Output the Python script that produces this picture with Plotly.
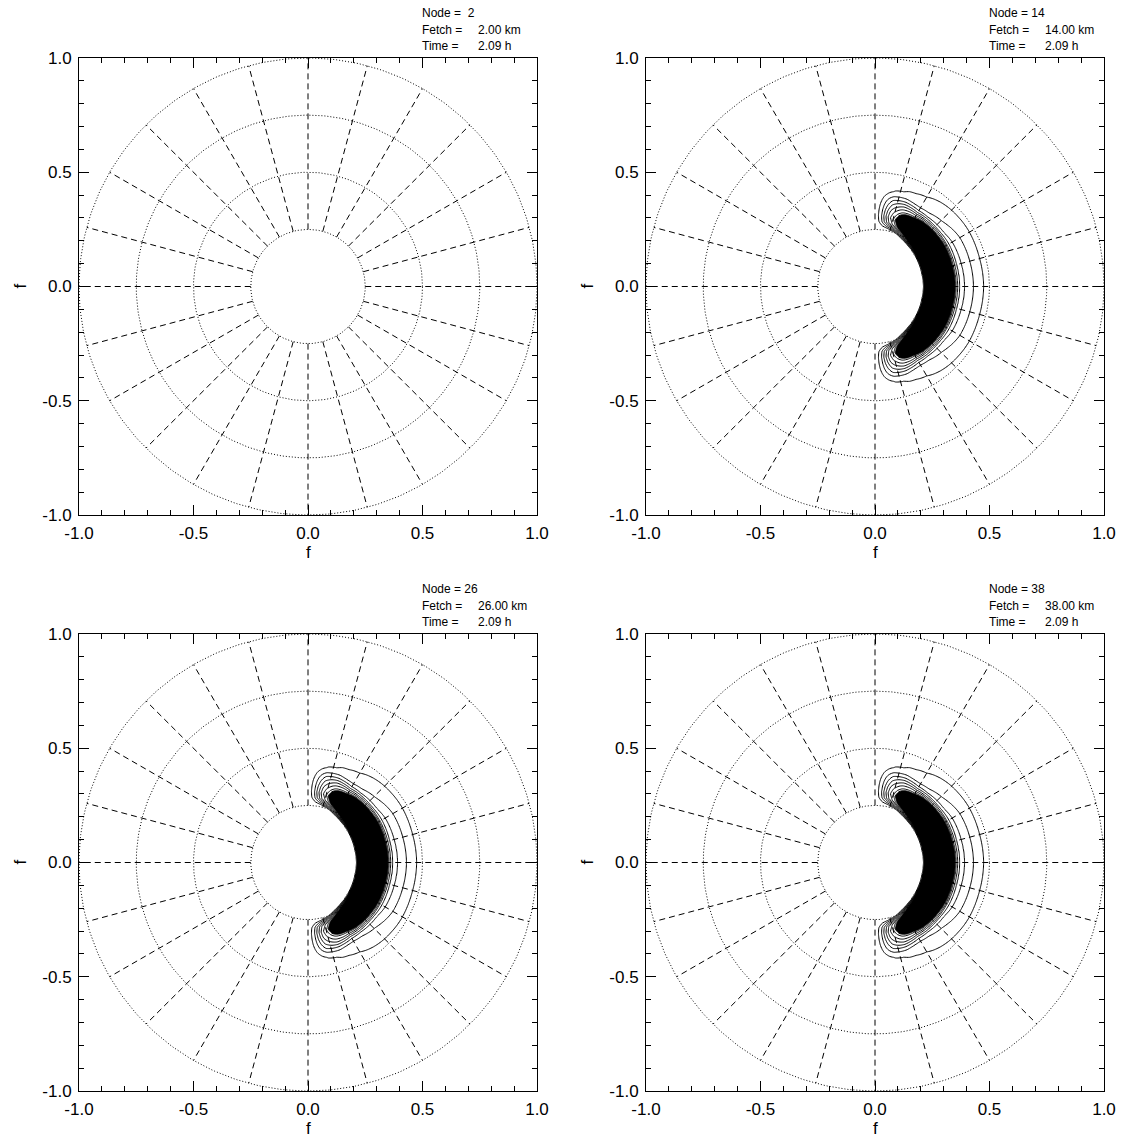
import numpy as np
import plotly.graph_objects as go

# ---------------- data ----------------
NODES = [2, 14, 26, 38]
FETCH_KM = [2.00, 14.00, 26.00, 38.00]
TIME_H = [2.09, 2.09, 2.09, 2.09]
NODE_AMPLITUDE = [0.0, 1.0, 1.0, 1.0]

# 1-D frequency profile along the mean direction (relative energy)
FREQ = [0.19, 0.205, 0.215, 0.225, 0.24, 0.26, 0.28, 0.30, 0.32, 0.34,
        0.355, 0.37, 0.39, 0.43, 0.47, 0.52, 0.60]
ENERGY = [0.0, 0.0, 0.05, 0.40, 0.85, 1.00, 0.92, 0.76, 0.56, 0.32,
          0.19, 0.13, 0.10, 0.066, 0.035, 0.012, 0.0]

# directional spreading and peak-frequency shift vs angle from mean direction
DIR_DEG = [0, 15, 30, 40, 50, 60, 70, 78, 85, 90]
SPREAD = [1.0, 0.98, 0.88, 0.72, 0.57, 0.40, 0.29, 0.19, 0.06, 0.0]
PEAK_SCALE = [1.0, 1.0, 1.02, 1.04, 1.065, 1.10, 1.16, 1.19, 1.20, 1.20]

TICK_VALS = [-1.0, -0.5, 0.0, 0.5, 1.0]
TICK_TEXT = ["-1.0", "-0.5", "0.0", "0.5", "1.0"]
RING_RADII = [0.25, 0.5, 0.75, 1.0]
SPOKE_ANGLES = list(range(0, 360, 15))
SPOKE_INNER = 0.25
SPOKE_OUTER = 1.0

LEVEL_START, LEVEL_END, LEVEL_STEP = 0.033, 0.99, 0.033
FILL_LEVEL = 0.25

# ---------------- layout geometry (pixels) ----------------
W, H = 1123, 1140
COLS_PX = [(79, 537), (646, 1104)]
ROWS_PX = [(58, 515), (634, 1091)]
FONT = "Liberation Sans, Arial, Helvetica, sans-serif"


def px_x(p):
    return p / W


def px_y(p):
    return 1 - p / H


# field on a Cartesian grid from the polar profile arrays
g = np.linspace(-0.7, 0.7, 281)
GX, GY = np.meshgrid(g, g)
R = np.hypot(GX, GY)
TH = np.abs(np.degrees(np.arctan2(GY, GX)))
scale = np.interp(TH, DIR_DEG, PEAK_SCALE)
E = np.interp(R / scale, FREQ, ENERGY, left=0.0, right=0.0)
D = np.interp(TH, DIR_DEG, SPREAD, right=0.0)
BASE = E * D

# grid geometry
t = np.linspace(0, 2 * np.pi, 361)
ring_x, ring_y = [], []
for r in RING_RADII:
    ring_x += list(r * np.cos(t)) + [None]
    ring_y += list(r * np.sin(t)) + [None]
spoke_x, spoke_y = [], []
for a in SPOKE_ANGLES:
    ar = np.radians(a)
    spoke_x += [SPOKE_INNER * np.cos(ar), SPOKE_OUTER * np.cos(ar), None]
    spoke_y += [SPOKE_INNER * np.sin(ar), SPOKE_OUTER * np.sin(ar), None]

fig = go.Figure()
annotations = []
layout = dict(
    width=W, height=H, autosize=False,
    margin=dict(l=0, r=0, t=0, b=0, pad=0, autoexpand=False),
    paper_bgcolor="white", plot_bgcolor="white",
    showlegend=False,
    font=dict(family=FONT, color="black"),
)

for i in range(4):
    row, col = divmod(i, 2)
    xs = "" if i == 0 else str(i + 1)
    xa, ya = "x" + xs, "y" + xs
    x0, x1 = COLS_PX[col]
    y0, y1 = ROWS_PX[row]

    axis_common = dict(
        range=[-1, 1], tickmode="array", tickvals=TICK_VALS, ticktext=TICK_TEXT,
        ticks="inside", ticklen=10, tickwidth=1, tickcolor="black",
        showline=True, linecolor="black", linewidth=1, mirror="ticks",
        showgrid=False, zeroline=False, fixedrange=True, automargin=False,
        tickfont=dict(size=17, family=FONT, color="black"),
        minor=dict(tickmode="linear", tick0=-1, dtick=0.1, ticks="inside",
                   ticklen=5, tickwidth=1, tickcolor="black", showgrid=False),
    )
    layout["xaxis" + xs] = dict(axis_common, domain=[px_x(x0), px_x(x1)], anchor=ya,
                                ticklabelstandoff=3)
    layout["yaxis" + xs] = dict(axis_common, domain=[px_y(y1), px_y(y0)], anchor=xa,
                                ticklabelstandoff=3)

    # dotted rings and dashed spokes
    fig.add_trace(go.Scatter(x=ring_x, y=ring_y, mode="lines", xaxis=xa, yaxis=ya,
                             line=dict(color="black", width=1, dash="1px,2px"),
                             hoverinfo="skip"))
    fig.add_trace(go.Scatter(x=spoke_x, y=spoke_y, mode="lines", xaxis=xa, yaxis=ya,
                             line=dict(color="black", width=1, dash="6px,4px"),
                             hoverinfo="skip"))

    Z = NODE_AMPLITUDE[i] * BASE
    if Z.max() > 0:
        # constraint contours shade the region failing the test -> z >= FILL_LEVEL
        fig.add_trace(go.Contour(
            x=g, y=g, z=Z, xaxis=xa, yaxis=ya,
            contours=dict(type="constraint", operation="<", value=FILL_LEVEL),
            fillcolor="black", line=dict(color="black", width=1),
            showscale=False, hoverinfo="skip"))
        fig.add_trace(go.Contour(
            x=g, y=g, z=Z, xaxis=xa, yaxis=ya,
            contours=dict(start=LEVEL_START, end=LEVEL_END, size=LEVEL_STEP,
                          coloring="lines"),
            colorscale=[[0, "black"], [1, "black"]],
            line=dict(width=1), showscale=False, hoverinfo="skip"))

    # header text
    lx = x1 - 117
    vx = lx + 56
    lines = [("Node = %2d" % NODES[i], None),
             ("Fetch =", "%.2f km" % FETCH_KM[i]),
             ("Time =", "%.2f h" % TIME_H[i])]
    for k, (lab, val) in enumerate(lines):
        yy = y0 - 45 + k * 16.5
        annotations.append(dict(text=lab.replace("  ", "&nbsp; "), x=px_x(lx), y=px_y(yy),
                                xref="paper", yref="paper", xanchor="left",
                                yanchor="middle", showarrow=False,
                                font=dict(size=12, family=FONT, color="black")))
        if val:
            annotations.append(dict(text=val, x=px_x(vx), y=px_y(yy),
                                    xref="paper", yref="paper", xanchor="left",
                                    yanchor="middle", showarrow=False,
                                    font=dict(size=12, family=FONT, color="black")))

    # axis titles
    annotations.append(dict(text="f", x=px_x((x0 + x1) / 2), y=px_y(y1 + 37),
                            xref="paper", yref="paper", xanchor="center",
                            yanchor="middle", showarrow=False,
                            font=dict(size=17, family=FONT, color="black")))
    annotations.append(dict(text="f", x=px_x(x0 - 59), y=px_y((y0 + y1) / 2),
                            xref="paper", yref="paper", xanchor="center",
                            yanchor="middle", showarrow=False, textangle=-90,
                            font=dict(size=17, family=FONT, color="black")))

layout["annotations"] = annotations
fig.update_layout(**layout)
fig.write_html("out.html",
               config={"displayModeBar": False},
               post_script="document.body.style.margin='0px';"
                           "document.body.style.padding='0px';")
